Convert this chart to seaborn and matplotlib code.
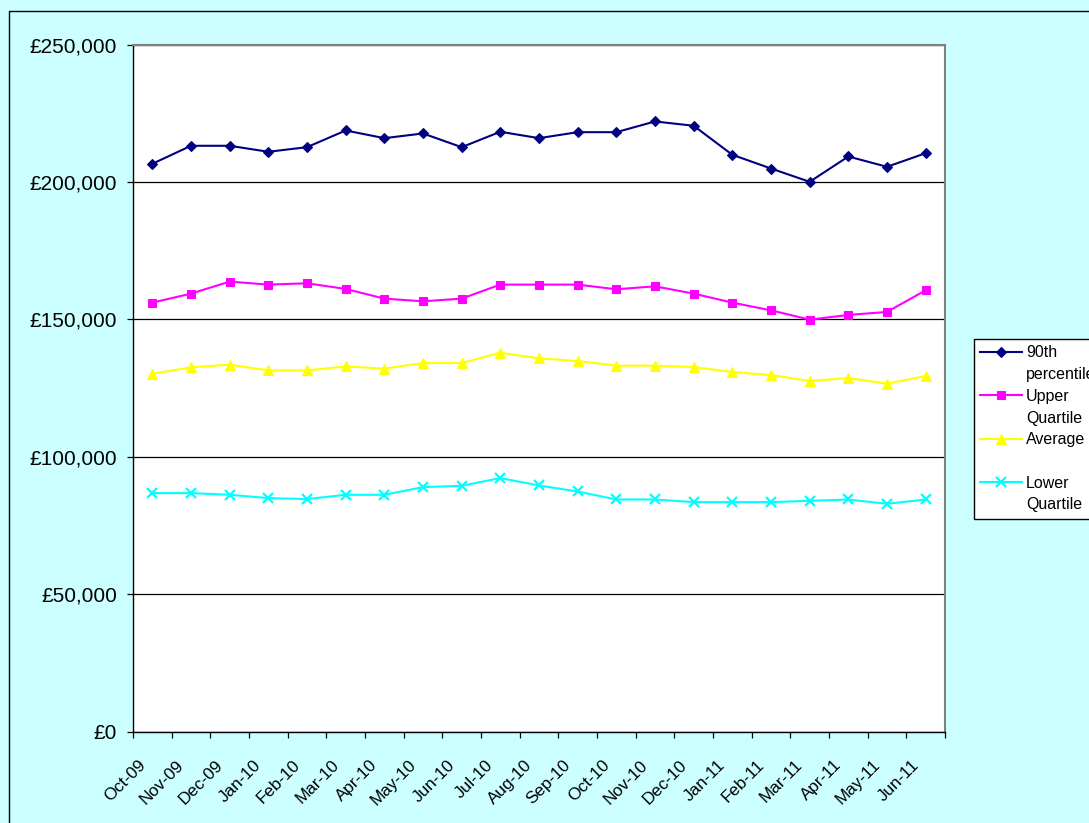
import matplotlib
matplotlib.use("Agg")
import matplotlib.pyplot as plt
import seaborn as sns
import pandas as pd
import numpy as np
from matplotlib.lines import Line2D
from matplotlib.patches import Rectangle
from matplotlib.ticker import FuncFormatter, FixedLocator
import matplotlib.transforms as mtransforms

months = ["Oct-09", "Nov-09", "Dec-09", "Jan-10", "Feb-10", "Mar-10", "Apr-10",
          "May-10", "Jun-10", "Jul-10", "Aug-10", "Sep-10", "Oct-10", "Nov-10",
          "Dec-10", "Jan-11", "Feb-11", "Mar-11", "Apr-11", "May-11", "Jun-11"]

p90 = [206600, 213150, 213150, 210970, 212640, 218720, 215920, 217630, 212640,
       218250, 215920, 218100, 218100, 222000, 220430, 209870, 204880, 200040,
       209250, 205500, 210450]
upper_q = [156080, 159360, 163730, 162640, 163110, 161070, 157540, 156560, 157540,
           162640, 162640, 162640, 160930, 162020, 159360, 156080, 153280, 149890,
           151600, 152690, 160560]
average = [130230, 132520, 133500, 131430, 131430, 132890, 132050, 134120, 134120,
           137870, 135800, 134850, 133140, 133140, 132660, 130840, 129750, 127560,
           128660, 126580, 129380]
lower_q = [86780, 86780, 86160, 84960, 84600, 86160, 86160, 88960, 89440,
           92240, 89550, 87360, 84450, 84450, 83500, 83500, 83500, 83980,
           84450, 82880, 84450]

series_names = ["90th percentile", "Upper Quartile", "Average", "Lower Quartile"]
legend_lines = [("90th", "percentile"), ("Upper", "Quartile"), ("Average", " "), ("Lower", "Quartile")]
y_ticks = [0, 50000, 100000, 150000, 200000, 250000]

df = pd.DataFrame({"month": months, series_names[0]: p90, series_names[1]: upper_q,
                   series_names[2]: average, series_names[3]: lower_q})

styles = [
    dict(color="#000080", marker="D", markersize=4.8, markeredgewidth=0.8),
    dict(color="#FF00FF", marker="s", markersize=6.2, markeredgewidth=0.8),
    dict(color="#FFFF00", marker="^", markersize=7.6, markeredgewidth=0.8),
    dict(color="#00FFFF", marker="x", markersize=7.4, markeredgewidth=1.6),
]

plt.rcParams["font.family"] = ["Liberation Sans", "DejaVu Sans"]

W, H = 1089, 823
fig = plt.figure(figsize=(W / 100, H / 100), dpi=100, facecolor="#CCFFFF")
left, right, top, bottom = 133, 945, 44.5, 731.6
ax = fig.add_axes([left / W, 1 - bottom / H, (right - left) / W, (bottom - top) / H])
ax.set_facecolor("white")

handles = []
for name, st in zip(series_names, styles):
    sns.lineplot(data=df, x="month", y=name, ax=ax, sort=False, estimator=None,
                 legend=False, linewidth=1.5, markeredgecolor=st["color"],
                 markerfacecolor=st["color"], **st)
    handles.append(ax.lines[-1])

n = len(months)
ax.set_xlim(-0.5, n - 0.5)
ax.set_ylim(y_ticks[0], y_ticks[-1])
ax.yaxis.set_major_locator(FixedLocator(y_ticks))
ax.yaxis.set_major_formatter(FuncFormatter(lambda v, p: "£{:,.0f}".format(v)))
ax.set_xlabel("")
ax.set_ylabel("")

ax.xaxis.set_minor_locator(FixedLocator(np.arange(-0.5, n, 1.0)))
ax.tick_params(axis="x", which="major", length=0, pad=18.5, labelsize=12.3)
ax.tick_params(axis="x", which="minor", length=4.5, width=0.9, color="black", direction="out")
ax.tick_params(axis="y", which="major", length=4.5, width=0.9, color="black",
               direction="out", pad=7, labelsize=15)
offset = mtransforms.ScaledTranslation(-4 / 100, 0, fig.dpi_scale_trans)
for lbl in ax.get_xticklabels():
    lbl.set_rotation(45)
    lbl.set_ha("right")
    lbl.set_transform(lbl.get_transform() + offset)

ax.grid(axis="y", color="black", linewidth=0.9)
ax.grid(axis="x", visible=False)
ax.set_axisbelow(True)
for s in ["left", "bottom"]:
    ax.spines[s].set_color("black")
    ax.spines[s].set_linewidth(1.0)
for s in ["top", "right"]:
    ax.spines[s].set_color("#808080")
    ax.spines[s].set_linewidth(1.5)

blank = Line2D([], [], linestyle="none", marker="")
leg_handles, leg_labels = [], []
for h, (l1, l2) in zip(handles, legend_lines):
    leg_handles += [h, blank]
    leg_labels += [l1, l2]
leg = ax.legend(leg_handles, leg_labels, loc="upper left",
                bbox_to_anchor=(974 / W, 1 - 339 / H), bbox_transform=fig.transFigure,
                frameon=True, fancybox=False, edgecolor="black", facecolor="white",
                framealpha=1, fontsize=11.5, handlelength=2.6, handletextpad=0.25,
                borderpad=0.4, labelspacing=0.42, borderaxespad=0)
leg.get_frame().set_linewidth(1.0)

fig.patches.append(Rectangle((8.5 / W, -0.05), 1.2, (1 - 11 / H) + 0.05,
                             transform=fig.transFigure, fill=False,
                             edgecolor="black", linewidth=1.0))

fig.savefig("out.png", dpi=100, facecolor=fig.get_facecolor())
